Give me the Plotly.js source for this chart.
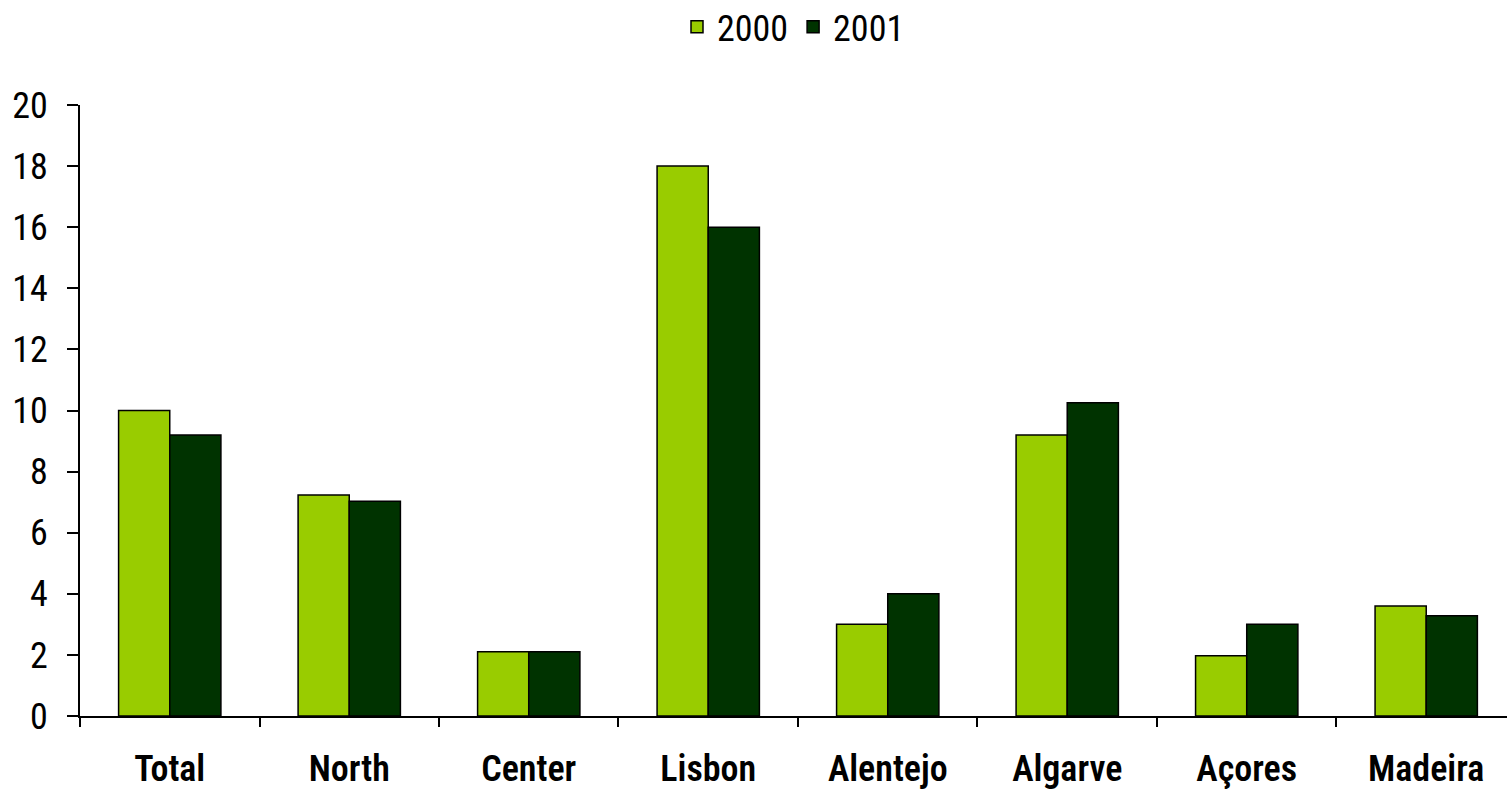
<!DOCTYPE html>
<html><head><meta charset="utf-8">
<script src="https://cdn.plot.ly/plotly-3.0.1.min.js"></script>
<style>body{margin:0;padding:0;background:#fff}#chart{width:1507px;height:791px}</style>
</head><body><div id="chart"></div>
<script>
const categories = ["Total","North","Center","Lisbon","Alentejo","Algarve","Açores","Madeira"];
const values2000 = [10.0, 7.23, 2.1, 18.0, 3.0, 9.2, 1.97, 3.6];
const values2001 = [9.2, 7.03, 2.1, 16.0, 4.0, 10.25, 3.0, 3.28];
const seriesNames = ["2000","2001"];
const yTicks = [0,2,4,6,8,10,12,14,16,18,20];

const FONT = '"Liberation Sans Narrow", "Arial Narrow", "Roboto Condensed", "DejaVu Sans Condensed", sans-serif';

const traces = [
  {type:'bar', name:seriesNames[0], x:categories, y:values2000,
   marker:{color:'#99CC00', line:{color:'#000', width:1.5}}},
  {type:'bar', name:seriesNames[1], x:categories, y:values2001,
   marker:{color:'#003300', line:{color:'#000', width:1.5}}}
];

const layout = {
  width:1507, height:791,
  margin:{l:80, r:0, t:105, b:75, autoexpand:false},
  paper_bgcolor:'#fff', plot_bgcolor:'#fff',
  barmode:'group', bargap:0.43, bargroupgap:0,
  showlegend:true,
  legend:{orientation:'h', x:0.5, xanchor:'center', y:1.128, yanchor:'middle',
          font:{family:FONT, size:36, color:'#000'}, itemwidth:30},
  font:{family:FONT, color:'#000'},
  xaxis:{type:'category', range:[-0.5, 7.45], showline:true, linecolor:'#000', linewidth:2,
         ticks:'outside', tickson:'boundaries', ticklen:9, tickwidth:2, tickcolor:'#000',
         ticklabelstandoff:20,
         tickfont:{family:FONT, size:36, color:'#000', weight:600}, showgrid:false, zeroline:false},
  yaxis:{range:[0,20], tickvals:yTicks, showline:true, linecolor:'#000', linewidth:2,
         ticks:'outside', ticklen:11, tickwidth:2, tickcolor:'#000', ticklabelstandoff:12,
         tickfont:{family:FONT, size:36, color:'#000'}, showgrid:false, zeroline:false}
};

Plotly.newPlot('chart', traces, layout, {displayModeBar:false, staticPlot:true});
</script></body></html>
